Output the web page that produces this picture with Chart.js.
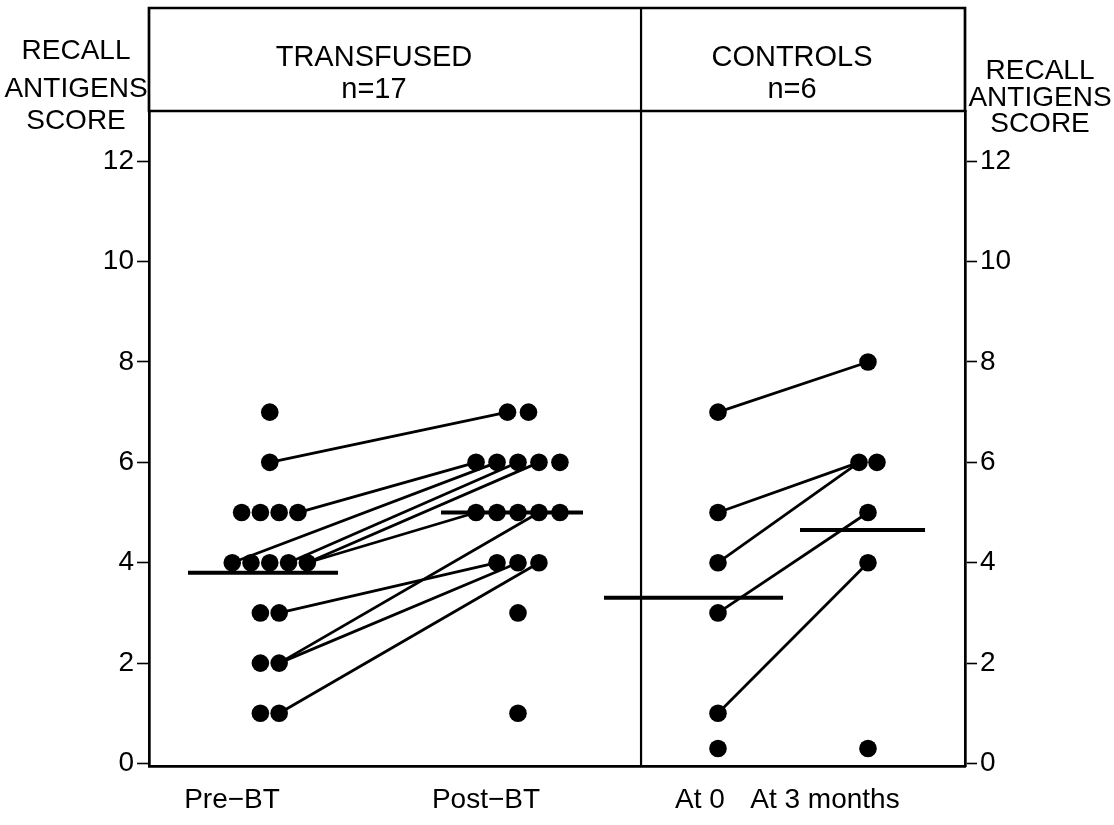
<!DOCTYPE html>
<html>
<head>
<meta charset="utf-8">
<script src="https://cdn.jsdelivr.net/npm/chart.js@4.4.1/dist/chart.umd.min.js"></script>
<style>
  html, body { margin: 0; padding: 0; background: #fff; }
  #wrap { width: 1114px; height: 825px; position: relative; }
</style>
</head>
<body>
<div id="wrap"><canvas id="c" width="1114" height="825"></canvas></div>
<script>
// Recall antigens score of each subject, per time point
const preBT  = [7, 6, 5, 5, 5, 5, 4, 4, 4, 4, 4, 3, 3, 2, 2, 1, 1];
const postBT = [7, 7, 6, 6, 6, 6, 6, 5, 5, 5, 5, 5, 4, 4, 4, 3, 1];
const at0    = [7, 5, 4, 3, 1, 0.3];
const at3m   = [8, 6, 6, 5, 4, 0.3];

// Joined pairs: [index in first column, index in second column]
const transfusedLinks = [[1, 0], [5, 2], [6, 3], [9, 4], [10, 5], [10, 7], [12, 12], [14, 10], [14, 13], [16, 14]];
const controlLinks    = [[0, 0], [1, 1], [2, 1], [3, 3], [4, 4]];

// Group means (horizontal bars)
const groupMeans = [3.8, 5.0, 3.3, 4.65];

// Texts
const xLabels     = ['Pre\u2212BT', 'Post\u2212BT', 'At 0', 'At 3 months'];
const yTicks      = [0, 2, 4, 6, 8, 10, 12];
const panelTitles = [['TRANSFUSED', 'n=17'], ['CONTROLS', 'n=6']];
const axisTitle   = ['RECALL', 'ANTIGENS', 'SCORE'];

// Layout on the horizontal 0..100 scale
const colCenter   = [14.8, 45.22, 69.73, 88.11];
const colStep     = [2.3, 2.57, 2.2, 2.2];
const meanCenter  = [13.97, 44.49, 66.73, 87.44];
const meanHalf    = [9.19, 8.7, 10.97, 7.66];
const labelAt     = [10.17, 41.3, 67.52, 82.84];
const dividerAt   = 60.3;
const titleAt     = [27.57, 78.8];

const FONT = '"Liberation Sans", "DejaVu Sans", Arial, sans-serif';
const INK = '#000';
const LEFT_W = 149, RIGHT_EDGE = 965;

// Spread equal values side by side around a column centre
function spreadColumn(values, center, step) {
  const counts = {}, seen = {};
  values.forEach(v => { counts[v] = (counts[v] || 0) + 1; });
  return values.map(v => {
    const r = seen[v] || 0;
    seen[v] = r + 1;
    return { x: center + (r - (counts[v] - 1) / 2) * step, y: v };
  });
}

const columns = [preBT, postBT, at0, at3m].map((vals, i) => spreadColumn(vals, colCenter[i], colStep[i]));

const datasets = [];
// dots
columns.forEach(pts => datasets.push({
  data: pts, showLine: false, pointRadius: 8.8, pointHoverRadius: 8.8,
  pointBackgroundColor: INK, pointBorderWidth: 0, order: 0
}));
// joining lines
function addLinks(links, a, b) {
  links.forEach(([i, j]) => datasets.push({
    data: [columns[a][i], columns[b][j]], showLine: true, pointRadius: 0,
    borderColor: INK, borderWidth: 2.8, order: 1
  }));
}
addLinks(transfusedLinks, 0, 1);
addLinks(controlLinks, 2, 3);
// mean bars
groupMeans.forEach((m, i) => datasets.push({
  data: [{ x: meanCenter[i] - meanHalf[i], y: m }, { x: meanCenter[i] + meanHalf[i], y: m }],
  showLine: true, pointRadius: 0, borderColor: INK, borderWidth: 4, order: 1
}));

// Header boxes, panel divider and axis titles
const framePlugin = {
  id: 'frame',
  afterDraw(chart) {
    const { ctx, chartArea: a, scales: { x } } = chart;
    const top = 8;
    const dx = x.getPixelForValue(dividerAt);
    ctx.save();
    ctx.strokeStyle = INK;
    ctx.lineCap = 'square';
    ctx.lineWidth = 2.7;
    ctx.beginPath();
    ctx.moveTo(a.left, a.top); ctx.lineTo(a.left, top); ctx.lineTo(a.right, top); ctx.lineTo(a.right, a.top);
    ctx.moveTo(a.left, a.top); ctx.lineTo(a.right, a.top);
    ctx.stroke();
    ctx.lineWidth = 2.2;
    ctx.beginPath();
    ctx.moveTo(dx, top); ctx.lineTo(dx, a.bottom);
    ctx.stroke();

    ctx.fillStyle = INK;
    ctx.textAlign = 'center';
    ctx.textBaseline = 'middle';
    ctx.font = '29px ' + FONT;
    panelTitles.forEach((lines, i) => {
      const cx = x.getPixelForValue(titleAt[i]);
      ctx.fillText(lines[0], cx, 58);
      ctx.fillText(lines[1], cx, 90);
    });
    ctx.font = '28px ' + FONT;
    const leftX = 76, rightX = 1040;
    const leftY = [51, 89, 121], rightY = [71, 98, 124];
    axisTitle.forEach((t, i) => {
      ctx.fillText(t, leftX, leftY[i]);
      ctx.fillText(t, rightX, rightY[i]);
    });
    ctx.restore();
  }
};

const yAxis = (pos) => ({
  type: 'linear', position: pos, min: -0.05, max: 13,
  afterBuildTicks: s => { s.ticks = yTicks.map(v => ({ value: v })); },
  afterFit: s => { s.width = pos === 'left' ? LEFT_W : 1114 - RIGHT_EDGE; },
  grid: { drawOnChartArea: false, drawTicks: true, tickLength: 12, tickWidth: 1.6, tickColor: INK },
  border: { display: true, color: INK, width: 2.7 },
  ticks: { color: INK, padding: 3, font: { family: FONT, size: 28 } }
});

new Chart(document.getElementById('c'), {
  type: 'scatter',
  data: { datasets },
  options: {
    responsive: false,
    animation: false,
    events: [],
    layout: { padding: { top: 111, left: 0, right: 0, bottom: 0 } },
    plugins: { legend: { display: false }, tooltip: { enabled: false } },
    scales: {
      x: {
        type: 'linear', position: 'bottom', min: 0, max: 100,
        afterBuildTicks: s => { s.ticks = labelAt.map(v => ({ value: v })); },
        afterFit: s => { s.height = 59; },
        grid: { drawOnChartArea: false, drawTicks: false },
        border: { display: true, color: INK, width: 2.7 },
        ticks: {
          color: INK, padding: 17, maxRotation: 0, autoSkip: false,
          font: { family: FONT, size: 28 },
          callback: (v, i) => xLabels[i]
        }
      },
      y: yAxis('left'),
      y2: yAxis('right')
    }
  },
  plugins: [framePlugin]
});
</script>
</body>
</html>
